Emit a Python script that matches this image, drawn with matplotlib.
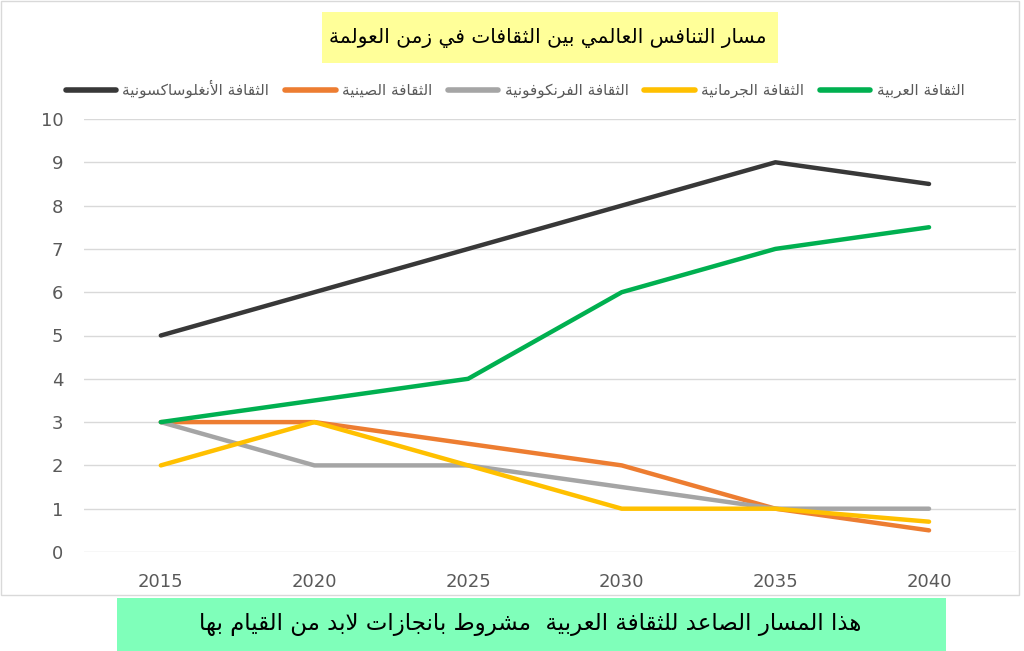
import matplotlib
matplotlib.use("Agg")
import matplotlib.pyplot as plt
from matplotlib.patches import Rectangle

# chart data
years = ["2015", "2020", "2025", "2030", "2035", "2040"]
anglo = [5, 6, 7, 8, 9, 8.5]
chinese = [3, 3, 2.5, 2, 1, 0.5]
franco = [3, 2, 2, 1.5, 1, 1]
germanic = [2, 3, 2, 1, 1, 0.7]
arabic = [3, 3.5, 4, 6, 7, 7.5]

series_names = ["الثقافة الأنغلوساكسونية", "الثقافة الصينية", "الثقافة الفرنكوفونية",
                "الثقافة الجرمانية", "الثقافة العربية"]
title_text = "مسار التنافس العالمي بين الثقافات في زمن العولمة"
note_text = "هذا المسار الصاعد للثقافة العربية  مشروط بانجازات لابد من القيام بها"

# --- tiny arabic shaper (matplotlib has no bidi / joining) ---
_order = [("ء", 1), ("آ", 2), ("أ", 2), ("ؤ", 2), ("إ", 2), ("ئ", 4), ("ا", 2),
          ("ب", 4), ("ة", 2), ("ت", 4), ("ث", 4), ("ج", 4), ("ح", 4), ("خ", 4),
          ("د", 2), ("ذ", 2), ("ر", 2), ("ز", 2), ("س", 4), ("ش", 4), ("ص", 4),
          ("ض", 4), ("ط", 4), ("ظ", 4), ("ع", 4), ("غ", 4), ("ف", 4), ("ق", 4),
          ("ك", 4), ("ل", 4), ("م", 4), ("ن", 4), ("ه", 4), ("و", 2), ("ى", 2),
          ("ي", 4)]
FORMS = {}
cp = 0xFE80
for ch, n in _order:
    FORMS[ch] = [chr(cp + k) for k in range(n)]
    cp += n
LAMALEF = {"آ": ["\uFEF5", "\uFEF6"], "أ": ["\uFEF7", "\uFEF8"],
           "إ": ["\uFEF9", "\uFEFA"], "ا": ["\uFEFB", "\uFEFC"]}


def shape(text):
    tokens = []
    i = 0
    while i < len(text):
        c = text[i]
        if c == "ل" and i + 1 < len(text) and text[i + 1] in LAMALEF:
            tokens.append(LAMALEF[text[i + 1]])
            i += 2
        else:
            tokens.append(FORMS.get(c, c))
            i += 1
    out = []
    for i, t in enumerate(tokens):
        if isinstance(t, str):
            out.append(t)
            continue
        prev = i > 0 and isinstance(tokens[i - 1], list) and len(tokens[i - 1]) == 4
        nxt = len(t) == 4 and i + 1 < len(tokens) and isinstance(tokens[i + 1], list)
        if len(t) == 1:
            out.append(t[0])
        elif len(t) == 2:
            out.append(t[1] if prev else t[0])
        else:
            out.append(t[3] if (prev and nxt) else t[1] if prev else t[2] if nxt else t[0])
    return "".join(reversed(out))


plt.rcParams['font.family'] = ['DejaVu Sans']

W, H = 1024, 651
fig = plt.figure(figsize=(W / 100, H / 100), dpi=100)

def fx(px):
    return px / W

def fy(py):
    return 1 - py / H

# outer chart frame
fig.patches.append(Rectangle((fx(1), fy(595)), fx(1018), fy(0) - fy(595) - 0.002,
                             transform=fig.transFigure, fill=False,
                             edgecolor="#D9D9D9", linewidth=1))

ax = fig.add_axes([fx(84), fy(552), fx(1016) - fx(84), fy(119) - fy(552)])
x = list(range(len(years)))
colors = ["#383838", "#ED7D31", "#A5A5A5", "#FFC000", "#00B050"]
for vals, name, col in zip([anglo, chinese, franco, germanic, arabic], series_names, colors):
    ax.plot(x, vals, color=col, linewidth=3.2, label=shape(name), solid_capstyle="round")

ax.set_xlim(-0.5, 5.566)
ax.set_ylim(0, 10)
ax.set_yticks(range(0, 11))
ax.set_xticks(x)
ax.set_xticklabels(years)
ax.grid(axis="y", color="#D9D9D9", linewidth=1)
ax.set_axisbelow(True)
for s in ax.spines.values():
    s.set_visible(False)
ax.tick_params(length=0, colors="#595959", labelsize=13)
ax.tick_params(axis="y", pad=15)
ax.tick_params(axis="x", pad=15)

leg = fig.legend(loc="center", bbox_to_anchor=(fx(515), fy(89)), ncol=5, frameon=False,
                 fontsize=11, handlelength=3.3, columnspacing=1.05, handletextpad=0.4)
for t in leg.get_texts():
    t.set_color("#595959")
for h in leg.get_lines():
    h.set_linewidth(4)

# title box
fig.patches.append(Rectangle((fx(322), fy(63)), fx(456), fy(12) - fy(63),
                             transform=fig.transFigure, facecolor="#FFFF99", edgecolor="none"))
fig.text(fx(548), fy(38), shape(title_text), ha="center", va="center", fontsize=14.5, color="black")

# bottom note box
fig.patches.append(Rectangle((fx(117), 0), fx(829), fy(598),
                             transform=fig.transFigure, facecolor="#7FFFBA", edgecolor="none"))
fig.text(fx(530), fy(624), shape(note_text), ha="center", va="center", fontsize=16.5, color="black")

fig.savefig("out.png", dpi=100)
